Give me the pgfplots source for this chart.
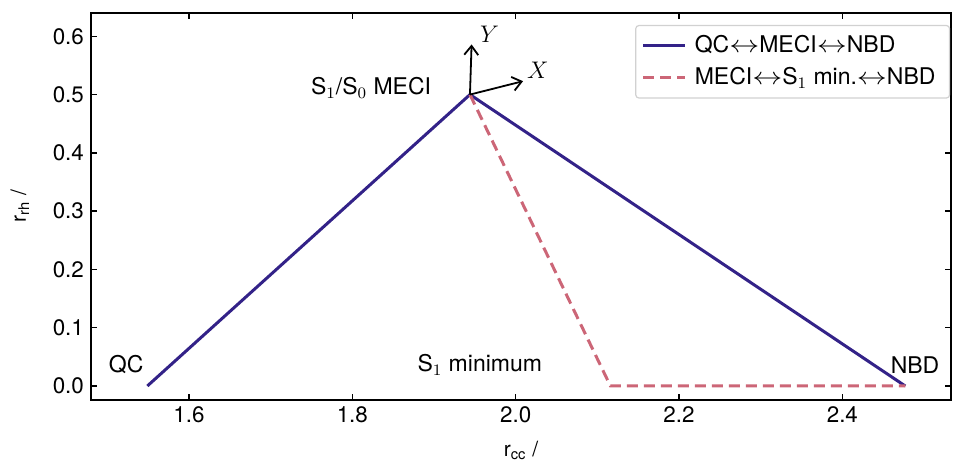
\documentclass[border=0pt]{standalone}
\usepackage{pgfplots}
\pgfplotsset{compat=1.18}
\usepackage{graphicx}
\usepackage{fontspec}
\setmainfont{TeX Gyre Heros}
\usetikzlibrary{arrows.meta}

\definecolor{pathblue}{HTML}{332288}
\definecolor{pathrose}{HTML}{CC6677}

\newcommand{\lr}{\scalebox{1.25}[1]{$\leftrightarrow$}}
\newcommand{\annot}{\fontsize{11.5pt}{13.8pt}\selectfont}

\begin{document}
\begin{tikzpicture}
\begin{axis}[
  scale only axis,
  width=430pt, height=193.5pt,
  xmin=1.48, xmax=2.533,
  ymin=-0.024, ymax=0.64,
  xtick={1.6,1.8,2.0,2.2,2.4},
  ytick={0,0.1,0.2,0.3,0.4,0.5,0.6},
  tick align=inside,
  major tick length=3pt,
  axis line style={line width=0.9pt},
  every tick/.style={line width=0.7pt, black},
  /pgf/number format/assume math mode=true,
  /pgf/number format/fixed,
  /pgf/number format/fixed zerofill,
  /pgf/number format/precision=1,
  tick label style={font=\fontsize{11.2pt}{13pt}\selectfont},
  xlabel={r\textsubscript{cc} /},
  ylabel={r\textsubscript{rh} /},
  label style={font=\fontsize{10.5pt}{12.5pt}\selectfont},
  xlabel style={yshift=-2pt},
  ylabel style={yshift=5pt},
  legend style={
    at={(0.999,0.969)}, anchor=north east,
    draw=black!18, line width=0.6pt, rounded corners=1.5pt,
    font=\annot,
    row sep=2pt, inner xsep=3pt, inner ysep=3pt,
    nodes={inner xsep=4pt},
  },
  legend cell align=left,
  legend image code/.code={
    \draw[#1] (0pt,0pt) -- (21pt,0pt);
  },
]
\addplot[pathblue, line width=1.5pt] coordinates {
  (1.549,0.0) (1.944,0.5) (2.477,0.0)
};
\addlegendentry{QC\lr MECI\lr NBD}

\addplot[pathrose, line width=1.5pt, dash pattern=on 5.5pt off 3pt] coordinates {
  (1.944,0.5) (2.116,0.0) (2.477,0.0)
};
\addlegendentry{MECI\lr S$_1$ min.\lr NBD}

% local frame at the crossing point
\draw[-{Straight Barb[length=4.5pt,width=7pt]}, line width=0.9pt]
  (axis cs:1.944,0.5) -- (axis cs:1.946,0.586);
\draw[-{Straight Barb[length=4.5pt,width=7pt]}, line width=0.9pt]
  (axis cs:1.944,0.5) -- (axis cs:2.009,0.523);
\node[font=\annot] at (axis cs:1.968,0.604) {$Y$};
\node[font=\annot] at (axis cs:2.027,0.541) {$X$};

\node[anchor=east, font=\annot] at (axis cs:1.905,0.511) {S$_1$/S$_0$ MECI};
\node[font=\annot] at (axis cs:1.523,0.036) {QC};
\node[font=\annot] at (axis cs:1.956,0.036) {S$_1$ minimum};
\node[font=\annot] at (axis cs:2.489,0.036) {NBD};
\end{axis}
\pgfresetboundingbox
\path (current axis.south west) ++(-45.5pt,-31pt) coordinate (bbA);
\path (current axis.north east) ++(1pt,6.5pt) coordinate (bbB);
\useasboundingbox (bbA) rectangle (bbB);
\end{tikzpicture}
\end{document}
